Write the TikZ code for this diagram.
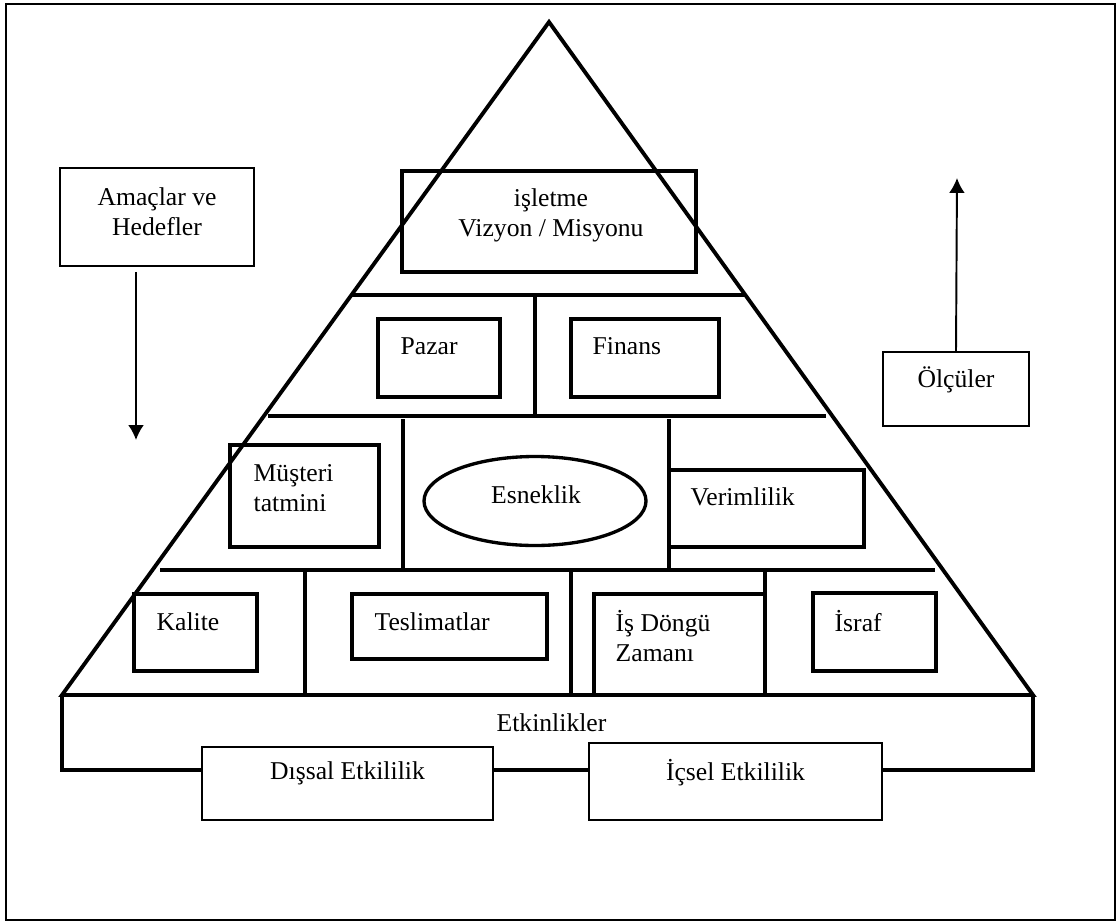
\documentclass[tikz,border=0pt]{standalone}
\usepackage{fontspec}
\setmainfont{Liberation Serif}
\usetikzlibrary{calc,arrows.meta,positioning,shapes.geometric}

\begin{document}
\begin{tikzpicture}[x=0.02cm,y=-0.02cm]

  % Parameters
  \def\px{0.02cm}

  % Styles
  \tikzstyle{every node}=[inner sep=0pt,font=\fontsize{14.6}{17.1}\selectfont]
  \tikzstyle{frame}=[line width=1pt]
  \tikzstyle{pyr}=[line width=2.2pt,line join=miter]
  \tikzstyle{sep}=[line width=1.9pt]
  \tikzstyle{thickbox}=[draw,line width=1.9pt]
  \tikzstyle{thinbox}=[draw,line width=1.1pt]
  \tikzstyle{txt}=[align=left,anchor=west]
  \tikzstyle{flow}=[line width=1.1pt,-{Latex[length=8.5pt,width=9pt]}]

  % \bx{<id>}{<style>}{<x0>}{<y0>}{<x1>}{<y1>}
  \newcommand{\bx}[6]{%
    \node[#2,minimum width={(#5-#3)*\px},minimum height={(#6-#4)*\px}] (#1) at ({(#3+#5)/2},{(#4+#6)/2}) {};
  }

  % ===========================================================================

  % Frame
  \useasboundingbox (0,0) rectangle (1119,923);
  \draw[frame] (6,4) rectangle (1115,920);

  % Pyramid
  \coordinate (apex) at (549,22);
  \coordinate (bl) at (62,695);
  \coordinate (br) at (1033,695);
  \draw[pyr] (bl) -- (apex) -- (br) -- cycle;

  % Layers
  \draw[sep] ($(apex)!0.4056!(bl)$) -- ($(apex)!0.4056!(br)$);
  \draw[sep] (268,416) -- (826,416);
  \draw[sep] (160,570) -- (935,570);
  \draw[sep] (535,295) -- (535,416);
  \foreach \x in {403,669} \draw[sep] (\x,419) -- (\x,570);
  \foreach \x in {305,571,765} \draw[sep] (\x,570) -- (\x,695);

  % Boxes
  \bx{goals}{thinbox}{60}{168}{254}{266}
  \bx{vision}{thickbox}{402}{171}{696}{272}
  \bx{market}{thickbox}{378}{319}{500}{397}
  \bx{finance}{thickbox}{571}{319}{719}{397}
  \bx{customer}{thickbox}{230}{445}{379}{547}
  \bx{productivity}{thickbox}{669}{470}{864}{547}
  \bx{quality}{thickbox}{134}{594}{257}{671}
  \bx{delivery}{thickbox}{352}{594}{547}{659}
  \bx{cycle}{thickbox}{594}{594}{765}{695}
  \bx{waste}{thickbox}{813}{593}{936}{671}
  \bx{measures}{thinbox}{883}{352}{1029}{426}
  \bx{external}{thinbox}{202}{747}{493}{820}
  \bx{internal}{thinbox}{589}{743}{882}{820}
  \node[thickbox,ellipse,minimum width=222*\px,minimum height=89*\px] (flex) at (535,501) {};

  % Texts
  \node[align=center] (goals-txt) at ($(goals)+(0,-5)$) {Amaçlar ve\\Hedefler};
  \node[align=center] (vision-txt) at ($(vision)+(2,-6)$) {işletme\\Vizyon / Misyonu};
  \node[txt] (market-txt) at ($(market.north west)+(24,29)$) {Pazar};
  \node[txt] (finance-txt) at ($(finance.north west)+(23,29)$) {Finans};
  \node[txt] (customer-txt) at ($(customer.north west)+(25,45)$) {Müşteri\\tatmini};
  \node (flex-txt) at ($(flex)+(1,-6)$) {Esneklik};
  \node[txt] (productivity-txt) at ($(productivity.north west)+(23,28)$) {Verimlilik};
  \node[txt] (quality-txt) at ($(quality.north west)+(24,29)$) {Kalite};
  \node[txt] (delivery-txt) at ($(delivery.north west)+(24,29)$) {Teslimatlar};
  \node[txt] (cycle-txt) at ($(cycle.north west)+(23,44)$) {İş Döngü\\Zamanı};
  \node[txt] (waste-txt) at ($(waste.north west)+(23,30)$) {İsraf};
  \node (measures-txt) at ($(measures)+(0,-9)$) {Ölçüler};
  \node (external-txt) at ($(external)+(0,-10)$) {Dışsal Etkililik};
  \node (internal-txt) at ($(internal)+(0,-9)$) {İçsel Etkililik};
  \node (activities-txt) at ($(bl)!0.5!(br)+(4,28)$) {Etkinlikler};

  % Activities base
  \coordinate (ebl) at (62,770);
  \coordinate (ebr) at (1033,770);
  \draw[pyr] (external.west |- ebl) -- (ebl) -- (bl);
  \draw[pyr] (external.east |- ebl) -- (internal.west |- ebl);
  \draw[pyr] (internal.east |- ebr) -- (ebr) -- (br);

  % Arrows
  \coordinate (goals-end) at (136,440);
  \draw[flow] ($(goals.south -| goals-end)+(0,5)$) -- (goals-end);
  \coordinate (measures-end) at (957,178);
  \draw[flow] (measures.north) -- (measures-end);

\end{tikzpicture}
\end{document}
